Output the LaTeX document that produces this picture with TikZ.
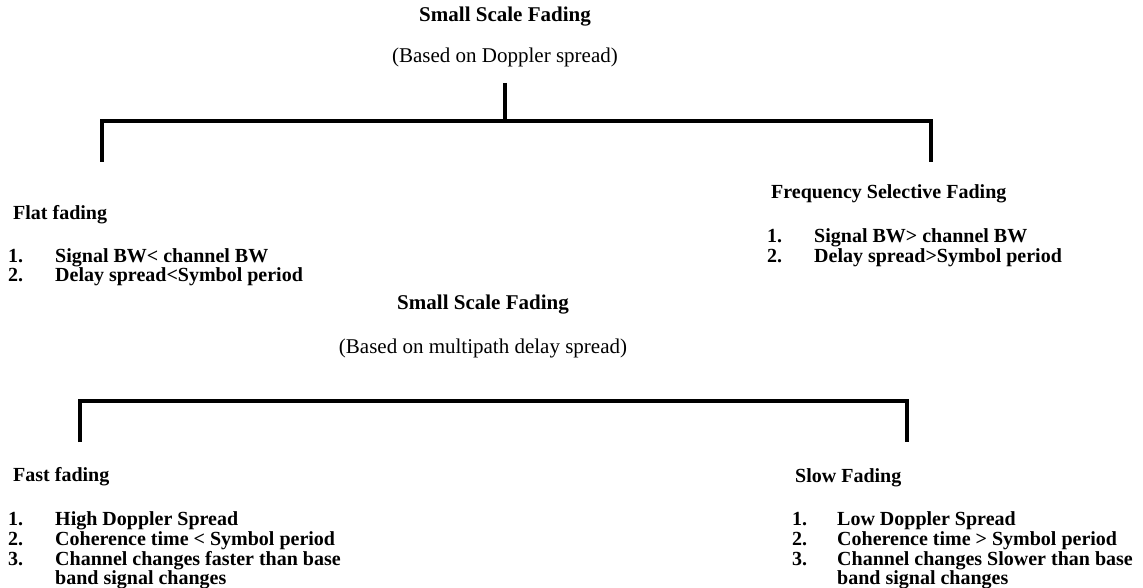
\documentclass[tikz,border=0pt]{standalone}
\usepackage{fontspec}
\setmainfont{Liberation Serif}
\usetikzlibrary{positioning}

\tikzset{
  every node/.style={inner sep=0pt},
  head/.style={font=\fontsize{21}{21}\selectfont\bfseries, anchor=base},
  basis/.style={font=\fontsize{21}{21}\selectfont, anchor=base},
  kind/.style={font=\fontsize{20}{20}\selectfont\bfseries, anchor=base west},
  num/.style={font=\fontsize{20}{20}\selectfont\bfseries, anchor=base west},
  bracket/.style={line width=4pt, line join=miter, line cap=butt}
}

\begin{document}
\begin{tikzpicture}[x=1pt,y=-1pt]
        \useasboundingbox (0,0) rectangle (1143,588);
        % upper split
        \node[head] (ssfa) at (505,22) {Small Scale Fading};
        \node[basis] (basisa) at (505,63) {(Based on Doppler spread)};
        \coordinate (roota) at (505,83);
        \coordinate (flatcorner) at (102,121);
        \coordinate (fsfcorner) at (931,121);
        \coordinate (flatleg) at (102,162);
        \coordinate (fsfleg) at (931,162);
        \draw[bracket] (roota) -- (roota |- flatcorner);
        \draw[bracket] (flatleg) -- (flatcorner) -- (fsfcorner) -- (fsfleg);
        \node[kind] (flat) at (13,219) {Flat fading};
        \node[num] (flatnuma) at (8,262) {1.};
        \node[num] (flatitema) at (55,262) {Signal BW< channel BW};
        \node[num] (flatnumb) at (8,281) {2.};
        \node[num] (flatitemb) at (55,281) {Delay spread<Symbol period};
        \node[kind] (fsf) at (771,199) {Frequency Selective Fading};
        \node[num] (fsfnuma) at (767,243) {1.};
        \node[num] (fsfitema) at (814,243) {Signal BW> channel BW};
        \node[num] (fsfnumb) at (767,262) {2.};
        \node[num] (fsfitemb) at (814,262) {Delay spread>Symbol period};
        % lower split
        \node[head] (ssfb) at (483,309) {Small Scale Fading};
        \node[basis] (basisb) at (483,353) {(Based on multipath delay spread)};
        \coordinate (fastcorner) at (80,401);
        \coordinate (slowcorner) at (907,401);
        \coordinate (fastleg) at (80,442);
        \coordinate (slowleg) at (907,442);
        \draw[bracket] (fastleg) -- (fastcorner) -- (slowcorner) -- (slowleg);
        \node[kind] (fast) at (13,481) {Fast fading};
        \node[num] (fastnuma) at (8,525) {1.};
        \node[num] (fastitema) at (55,525) {High Doppler Spread};
        \node[num] (fastnumb) at (8,545) {2.};
        \node[num] (fastitemb) at (55,545) {Coherence time < Symbol period};
        \node[num] (fastnumc) at (8,565) {3.};
        \node[num] (fastitemc) at (55,565) {Channel changes faster than base};
        \node[num] (fastitemd) at (55,584) {band signal changes};
        \node[kind] (slow) at (795,482) {Slow Fading};
        \node[num] (slownuma) at (792,525) {1.};
        \node[num] (slowitema) at (837,525) {Low Doppler Spread};
        \node[num] (slownumb) at (792,545) {2.};
        \node[num] (slowitemb) at (837,545) {Coherence time > Symbol period};
        \node[num] (slownumc) at (792,565) {3.};
        \node[num] (slowitemc) at (837,565) {Channel changes Slower than base};
        \node[num] (slowitemd) at (837,584) {band signal changes};
\end{tikzpicture}
\end{document}
